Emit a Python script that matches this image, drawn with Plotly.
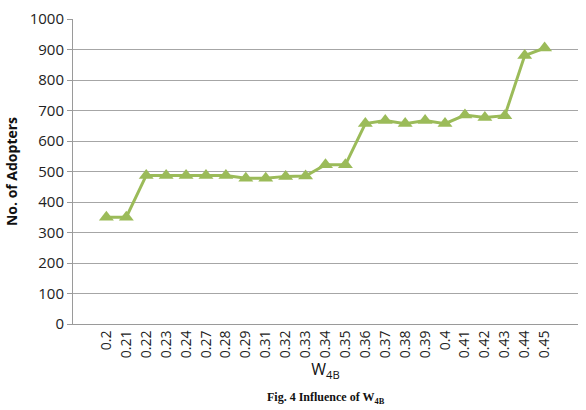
import plotly.graph_objects as go

categories = ["0.2", "0.21", "0.22", "0.23", "0.24", "0.27", "0.28", "0.29", "0.31", "0.32",
              "0.33", "0.34", "0.35", "0.36", "0.37", "0.38", "0.39", "0.4", "0.41", "0.42",
              "0.43", "0.44", "0.45"]
adopters = [350, 350, 487, 487, 487, 487, 487, 478, 478, 484,
            485, 522, 522, 657, 667, 657, 667, 657, 685, 677,
            683, 880, 905]
y_ticks = list(range(0, 1001, 100))

GREEN = "#9BBB59"
FONT = "Open Sans, Liberation Sans, sans-serif"

fig = go.Figure()
fig.add_trace(go.Scatter(
    x=categories, y=adopters, mode="lines+markers",
    line=dict(color=GREEN, width=3),
    marker=dict(symbol="triangle-up", size=13, color=GREEN),
    showlegend=False,
))

fig.update_layout(
    width=586, height=410,
    margin=dict(l=73, r=8, t=19, b=86),
    paper_bgcolor="white", plot_bgcolor="white",
    font=dict(family=FONT, color="#222222", size=13),
    xaxis=dict(
        type="category", tickangle=-90, showgrid=False,
        showline=True, linecolor="#9a9a9a", linewidth=1,
        tickfont=dict(size=14, color="#222222"),
        ticks="", ticklen=0,
        title=dict(text="W<sub>4B</sub>", font=dict(size=16, color="#111111"), standoff=4),
    ),
    yaxis=dict(
        range=[0, 1000], tickvals=y_ticks, showgrid=True, gridcolor="#a6a6a6", gridwidth=1,
        showline=True, linecolor="#9a9a9a", linewidth=1,
        ticks="outside", ticklen=5, tickcolor="#9a9a9a",
        tickfont=dict(size=15, color="#222222"),
        zeroline=False,
        title=dict(text="<b>No. of Adopters</b>", font=dict(size=14, color="#111111"), standoff=8),
    ),
)

fig.add_annotation(
    text="<b>Fig. 4 Influence of W<sub>4B</sub></b>", xref="paper", yref="paper",
    x=0.5, y=-0.276, yanchor="bottom", showarrow=False,
    font=dict(family="Liberation Serif, DejaVu Serif, serif", size=12, color="#111111"),
)

fig.write_html("out.html")
